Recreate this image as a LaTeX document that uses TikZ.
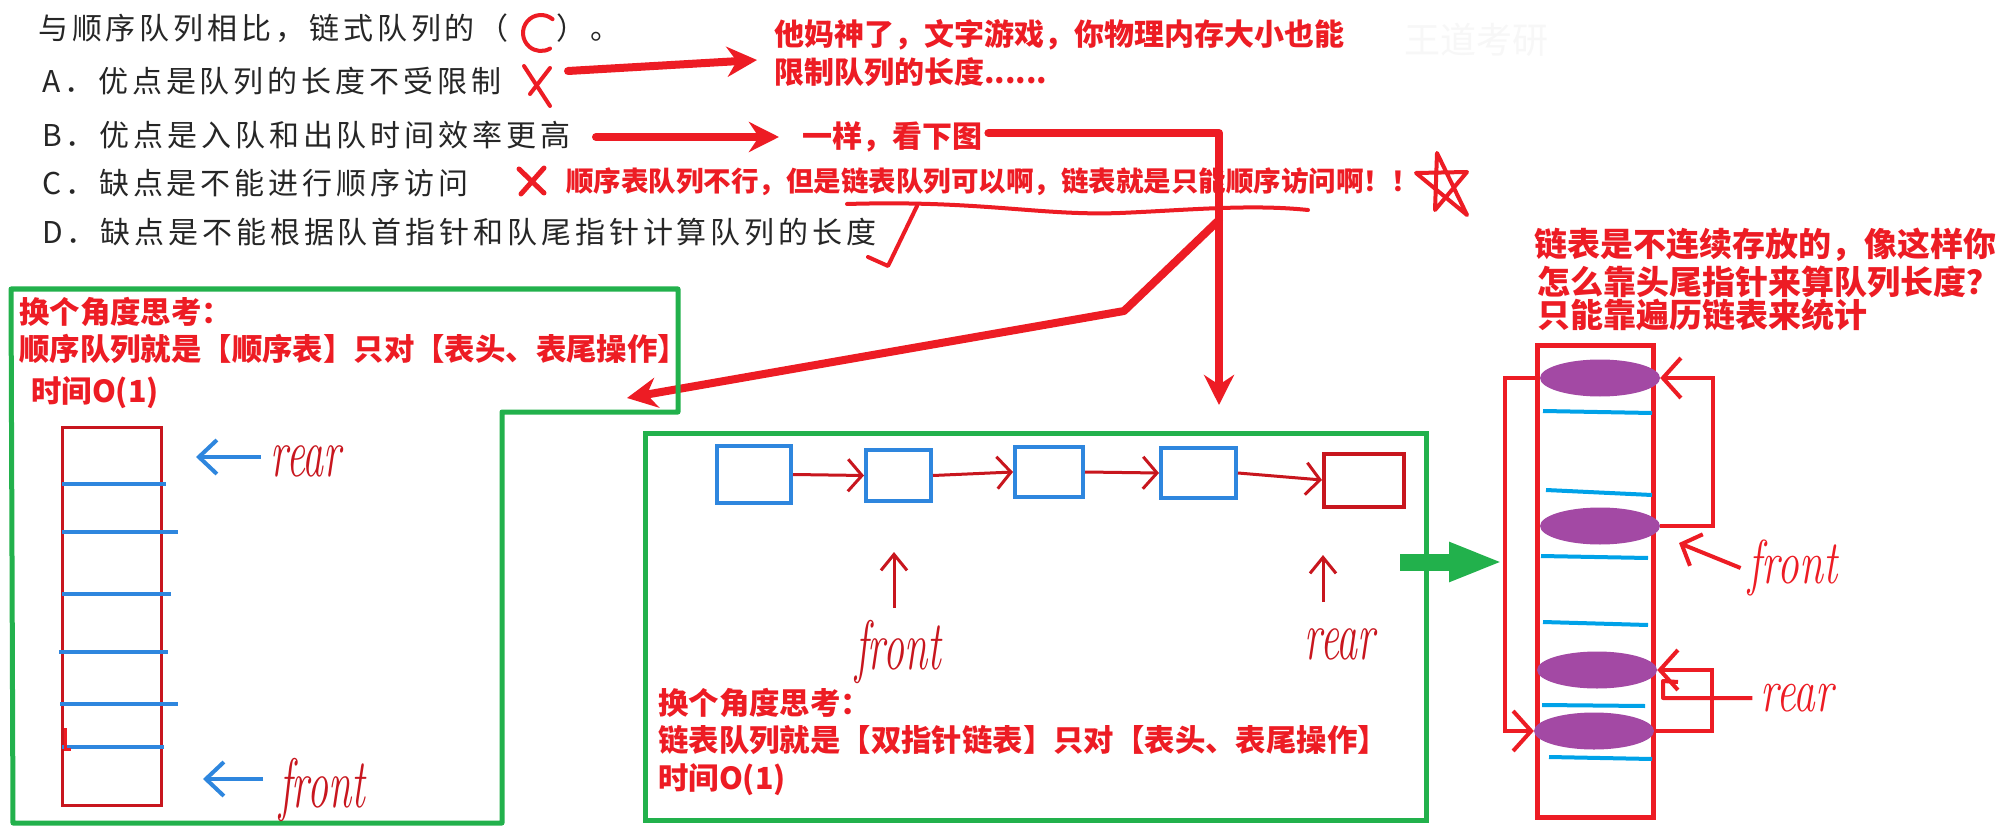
\documentclass[tikz,border=0pt]{standalone}
\usepackage{fontspec}
\usepackage{graphicx}
\newfontfamily\cjk{Noto Sans CJK SC}
\newfontfamily\cjkq{Noto Sans CJK SC}[LetterSpace=13]
\usetikzlibrary{arrows.meta,shapes.geometric}
\definecolor{pred}{HTML}{ED1C24}
\definecolor{dred}{HTML}{C8161E}
\definecolor{pgreen}{HTML}{22B14C}
\definecolor{ppurple}{HTML}{A349A4}
\definecolor{pcyan}{HTML}{00A2E8}
\definecolor{pblue}{HTML}{2E86DE}
\newcommand\hwtext[3]{\scalebox{#2}[1]{\fontsize{#1}{#1}\selectfont\itshape #3}}
\begin{document}
\begin{tikzpicture}[x=1pt,y=-1pt,
  qtext/.style={anchor=west,inner sep=0pt,text=black!85,font=\cjkq\fontsize{30}{32}\selectfont},
  rtext/.style={anchor=west,inner sep=0pt,text=pred,font=\cjk\bfseries\fontsize{30.4}{32}\selectfont},
  hand/.style={inner sep=0pt,text=dred},
  fat/.style={pred,line width=8pt,line cap=round,line join=round,-{Stealth[length=30pt,width=30pt]}},
  gbox/.style={pgreen,line width=5pt},
  bluebox/.style={draw=pblue,line width=4pt,inner sep=0pt},
  link/.style={dred,line width=3pt,-{Straight Barb[length=14pt,width=32pt]}},
  uparrow/.style={dred,line width=3pt,-{Straight Barb[length=16pt,width=26pt]}},
  barrow/.style={pblue,line width=4pt,-{Straight Barb[length=18pt,width=34pt]}},
  bline/.style={pblue,line width=4pt},
  cline/.style={pcyan,line width=4pt},
  loopline/.style={pred,line width=4pt,-{Straight Barb[length=18pt,width=40pt]}},
  cell/.style={ellipse,fill=ppurple,minimum width=120pt,minimum height=37pt,inner sep=0pt}]
\useasboundingbox (0,0) rectangle (2007,834);
\fill[white] (0,0) rectangle (2007,834);

% watermark
\node[inner sep=0pt,text=black!3,font=\cjk\fontsize{36}{38}\selectfont] (wm) at (1476,40) {王道考研};

% question
\node[qtext] (q0) at (38,28) {与顺序队列相比，链式队列的（\hspace{48pt}）。};
\node[qtext] (qa) at (42,81) {A．优点是队列的长度不受限制};
\node[qtext] (qb) at (42,135) {B．优点是入队和出队时间效率更高};
\node[qtext] (qc) at (42,183) {C．缺点是不能进行顺序访问};
\node[qtext] (qd) at (42,232) {D．缺点是不能根据队首指针和队尾指针计算队列的长度};

% hand marks
\draw[pred,line width=4pt,line cap=round] (541,33) ++(-50:18) arc[start angle=-50,end angle=-300,radius=18];
\draw[pred,line width=4pt,line cap=round] (524,66) -- (550,106) (550,68) -- (530,94);
\draw[pred,line width=5pt,line cap=round] (519,169) -- (544,193) (544,168) -- (521,194);
\draw[pred,line width=4pt,line cap=round,line join=round] (1437,153) -- (1467,215) -- (1416,173) -- (1467,172) -- (1435,210) -- cycle;

% red comments
\node[rtext,font=\cjk\bfseries\fontsize{30}{32}\selectfont] (t1a) at (774,35) {他妈神了，文字游戏，你物理内存大小也能};
\node[rtext,font=\cjk\bfseries\fontsize{30}{32}\selectfont] (t1b) at (774,72) {限制队列的长度......};
\node[rtext,font=\cjk\bfseries\fontsize{30}{32}\selectfont] (t2) at (802,137) {一样，看下图};
\node[rtext,font=\cjk\bfseries\fontsize{27.5}{29}\selectfont] (t3) at (566,182) {顺序表队列不行，但是链表队列可以啊，链表就是只能顺序访问啊！！};
\draw[pred,line width=4pt,line cap=round] (847,204) .. controls (980,200) and (1040,216) .. (1120,213) .. controls (1190,210) and (1250,204) .. (1308,210);
\draw[pred,line width=4pt,line cap=round,line join=round] (868,257) -- (888,266) -- (917,206);

% thick arrows
\coordinate (aS) at (568,71); \coordinate (aE) at (757,60);
\draw[fat] (aS) -- (aE);
\coordinate (bS) at (596,137); \coordinate (bE) at (779,137);
\draw[fat] (bS) -- (bE);
\coordinate (cCorner) at (1219,133); \coordinate (cDown) at (1219,405);
\draw[fat] ([xshift=6pt,yshift=4pt]t2.east) -- (cCorner) -- (cDown);
\coordinate (dS) at (1219,220); \coordinate (dK) at (1124,311); \coordinate (dL) at (627,398);
\draw[fat] (dS) -- (dK) -- (dL);

% right top text
\node[rtext,font=\cjk\bfseries\fontsize{33}{35}\selectfont] (rt1) at (1534,245) {链表是不连续存放的，像这样你};
\node[rtext,font=\cjk\bfseries\fontsize{33}{35}\selectfont] (rt2) at (1537,282) {怎么靠头尾指针来算队列长度？};
\node[rtext,font=\cjk\bfseries\fontsize{33}{35}\selectfont] (rt3) at (1537,315) {只能靠遍历链表来统计};

% left green box
\draw[gbox,line join=round] (11,289) -- (678,289) -- (678,412) -- (502,412) -- (502,823) -- (13,823) -- cycle;
\node[rtext] (lt1) at (19,312) {换个角度思考：};
\node[rtext] (lt2) at (19,349) {顺序队列就是【顺序表】只对【表头、表尾操作】};
\node[rtext] (lt3) at (31,393) {时间O(1)};
\node[draw=dred,line width=3pt,minimum width=99pt,minimum height=378pt,inner sep=0pt] (arr) at (111.5,616) {};
\draw[bline] (62,484) -- (166,484);
\draw[bline] (62,532) -- (178,532);
\draw[bline] (62,594) -- (171,594);
\draw[bline] (59,652) -- (168,652);
\draw[bline] (60,704) -- (178,704);
\draw[bline] (62,747) -- (164,747);
\draw[pred,line width=3pt] (65,728) -- (65,749) -- (71,749);
\node[hand] (lrear) at (306,461) {\hwtext{70}{0.6}{rear}};
\node[hand] (lfront) at (322,790) {\hwtext{70}{0.6}{front}};
\draw[barrow] (lrear.west) ++(-10,-4) -- (196,457);
\draw[barrow] (263,779) -- (203,779);

% middle green box
\node[draw=pgreen,line width=5pt,minimum width=781pt,minimum height=387pt,inner sep=0pt] (midbox) at (1035.5,626.5) {};
\node[bluebox,minimum width=74pt,minimum height=57pt] (s1) at (754,474.5) {};
\node[bluebox,minimum width=65pt,minimum height=51pt] (s2) at (898.5,475.5) {};
\node[bluebox,minimum width=68pt,minimum height=50pt] (s3) at (1049,472) {};
\node[bluebox,minimum width=75pt,minimum height=50pt] (s4) at (1198.5,473) {};
\node[draw=dred,line width=4pt,minimum width=80pt,minimum height=53pt,inner sep=0pt] (s5) at (1364,480) {};
\draw[link] (s1.east) -- (s2.west);
\draw[link] (s2.east) -- (s3.west);
\draw[link] (s3.east) -- (s4.west);
\draw[link] (s4.east) -- (s5.west);
\node[hand] (mfront) at (898,652) {\hwtext{70}{0.6}{front}};
\node[hand] (mrear) at (1340,644) {\hwtext{70}{0.6}{rear}};
\draw[uparrow] (894,608) -- (894,552);
\draw[uparrow] (1323,602) -- (1323,555);
\node[rtext] (mt1) at (658,703) {换个角度思考：};
\node[rtext] (mt2) at (658,740) {链表队列就是【双指针链表】只对【表头、表尾操作】};
\node[rtext] (mt3) at (658,780) {时间O(1)};

% green arrow
\coordinate (gS) at (1400,562); \coordinate (gE) at (1503,562);
\draw[pgreen,line width=17pt,-{Triangle[length=54pt,width=36pt]}] (gS) -- (gE);

% right storage
\node[draw=pred,line width=5pt,minimum width=116pt,minimum height=472pt,inner sep=0pt] (rarr) at (1595,581) {};
\draw[cline] (1543,411) -- (1652,413);
\draw[cline] (1546,490) -- (1652,495);
\draw[cline] (1541,556) -- (1648,558);
\draw[cline] (1543,622) -- (1648,625);
\draw[cline] (1542,705) -- (1645,706);
\draw[cline] (1549,757) -- (1652,759);
\node[cell] (e1) at (1600,378) {};
\node[cell] (e2) at (1600,526) {};
\node[cell] (e3) at (1597,670) {};
\node[cell] (e4) at (1594,731) {};
\draw[loopline] (e2.east) -- ++(53,0) |- (e1.east);
\draw[loopline] (e1.west) -- ++(-35,0) |- (e4.west);
\draw[loopline] (e4.east) -- ++(58,0) |- (e3.east);
\node[hand,text=pred] (rfront) at (1793,568) {\hwtext{62}{0.7}{front}};
\node[hand,text=pred] (rrear) at (1797,698) {\hwtext{62}{0.7}{rear}};
\draw[pred,line width=4pt,-{Straight Barb[length=16pt,width=34pt]}] ([xshift=-8pt]rfront.west) -- (1679,543);
\draw[pred,line width=4pt,line join=round] ([xshift=-8pt]rrear.west) -- (1663,698) -- (1663,681) -- (1678,682);
\end{tikzpicture}
\end{document}
